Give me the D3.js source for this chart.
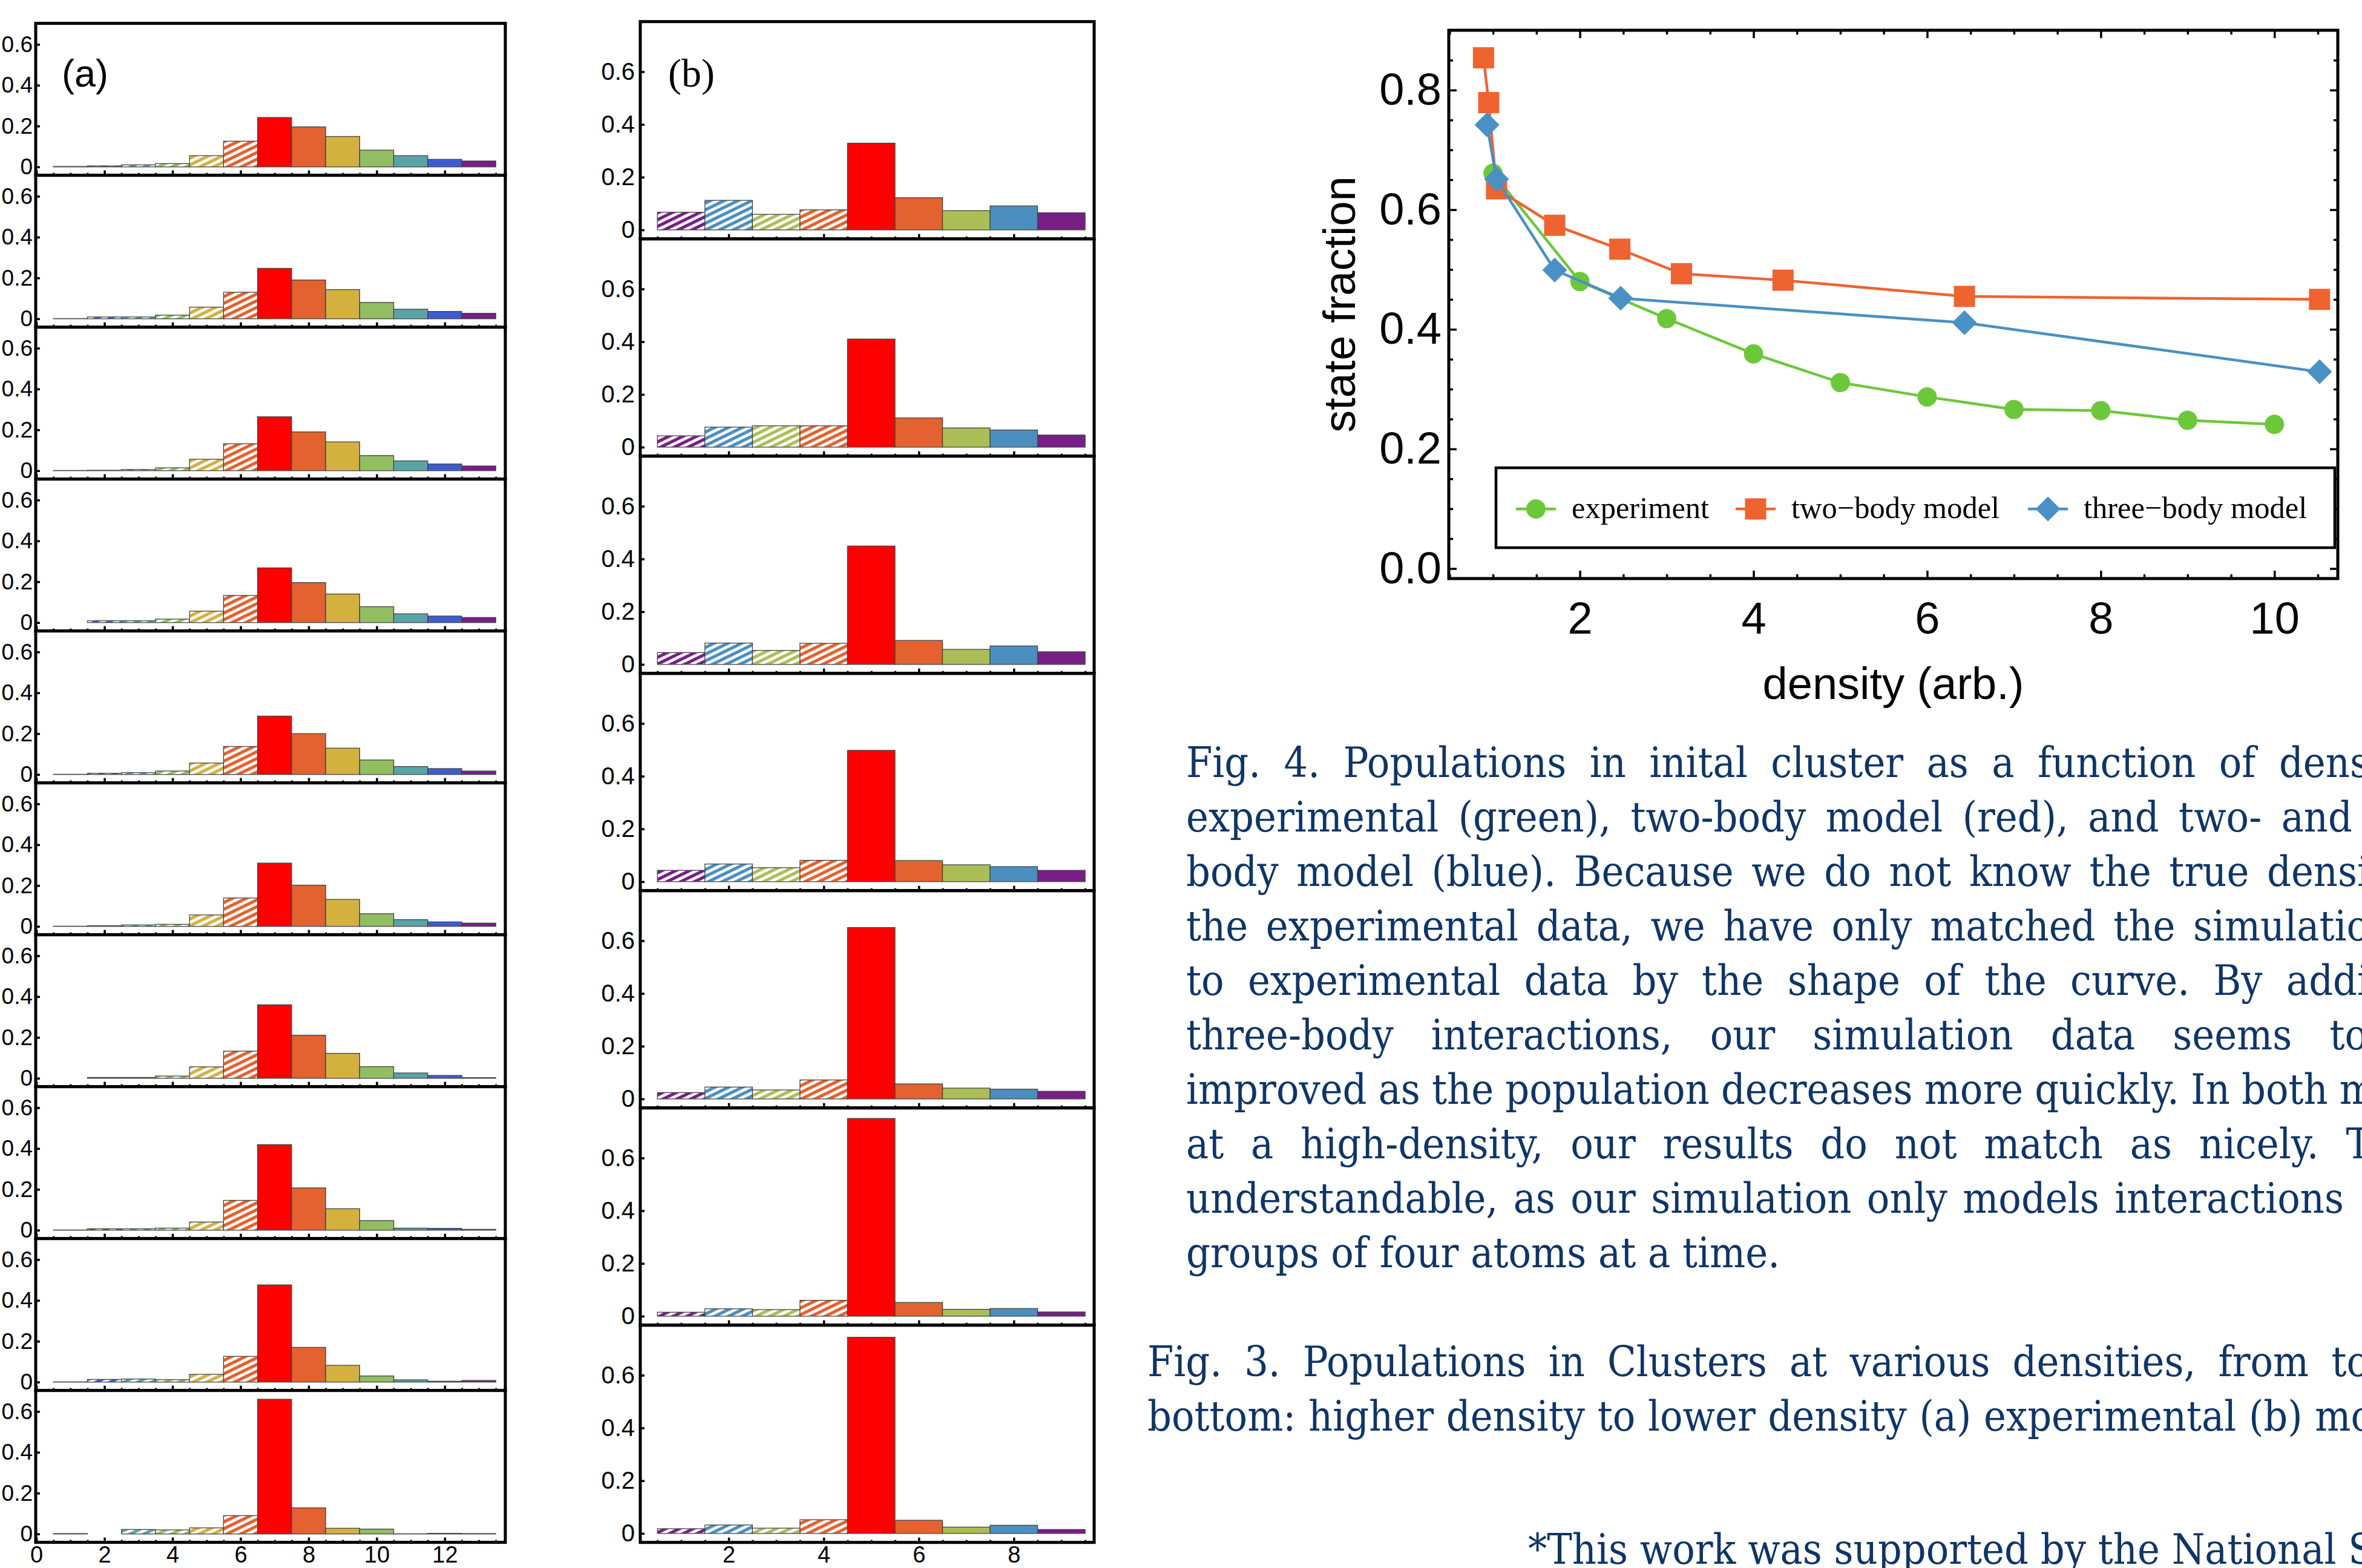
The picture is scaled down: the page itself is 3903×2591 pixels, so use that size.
<!DOCTYPE html>
<html>
<head>
<meta charset="utf-8">
<title>Cluster populations</title>
<script src="https://cdn.jsdelivr.net/npm/d3@7"></script>
<style>
  body { margin: 0; background: #fff; }
  svg { display: block; }
</style>
</head>
<body>
<script>

// ---- data: cluster populations, (a) experiment, (b) model ----
var aSizes = d3.range(1, 14);
var aPanels = [
  [0.002, 0.005, 0.010, 0.016, 0.055, 0.126, 0.242, 0.196, 0.149, 0.082, 0.055, 0.037, 0.029],
  [0.001, 0.009, 0.009, 0.018, 0.057, 0.130, 0.247, 0.190, 0.143, 0.080, 0.047, 0.036, 0.027],
  [0.001, 0.002, 0.006, 0.014, 0.056, 0.132, 0.264, 0.190, 0.141, 0.074, 0.048, 0.033, 0.023],
  [0.000, 0.009, 0.009, 0.017, 0.056, 0.133, 0.268, 0.196, 0.140, 0.078, 0.043, 0.032, 0.025],
  [0.001, 0.006, 0.009, 0.017, 0.056, 0.137, 0.286, 0.200, 0.129, 0.071, 0.039, 0.029, 0.017],
  [0.001, 0.003, 0.007, 0.010, 0.056, 0.139, 0.310, 0.202, 0.132, 0.062, 0.033, 0.022, 0.016],
  [0.000, 0.004, 0.004, 0.011, 0.056, 0.133, 0.360, 0.211, 0.122, 0.057, 0.026, 0.014, 0.003],
  [0.001, 0.007, 0.007, 0.010, 0.040, 0.146, 0.419, 0.207, 0.105, 0.047, 0.010, 0.009, 0.004],
  [0.001, 0.013, 0.015, 0.012, 0.038, 0.126, 0.476, 0.170, 0.082, 0.030, 0.011, 0.004, 0.008],
  [0.002, 0.000, 0.022, 0.020, 0.030, 0.090, 0.660, 0.128, 0.028, 0.024, 0.001, 0.003, 0.002]
];
var aTicksX = [0, 2, 4, 6, 8, 10, 12];

var bSizes = d3.range(1, 10);
var bPanels = [
  [0.067, 0.112, 0.059, 0.076, 0.329, 0.122, 0.073, 0.091, 0.065],
  [0.043, 0.076, 0.081, 0.081, 0.410, 0.111, 0.073, 0.065, 0.046],
  [0.045, 0.081, 0.053, 0.080, 0.449, 0.091, 0.057, 0.070, 0.048],
  [0.043, 0.067, 0.053, 0.081, 0.498, 0.080, 0.064, 0.057, 0.043],
  [0.024, 0.045, 0.034, 0.072, 0.650, 0.057, 0.041, 0.037, 0.029],
  [0.015, 0.028, 0.025, 0.060, 0.750, 0.052, 0.026, 0.029, 0.016],
  [0.018, 0.032, 0.020, 0.052, 0.744, 0.050, 0.024, 0.031, 0.015]
];
var bTicksX = [2, 4, 6, 8];
var barTicksY = [0, 0.2, 0.4, 0.6];

// ---- data: state fraction vs density ----
var expX = [1, 2, 3, 4, 5, 6, 7, 8, 9, 10];
var expY = [0.661, 0.480, 0.418, 0.359, 0.311, 0.287, 0.266, 0.264, 0.248, 0.241];
var twoX = [0.89, 0.95, 1.04, 1.71, 2.46, 3.17, 4.34, 6.43, 10.52];
var twoY = [0.854, 0.779, 0.635, 0.574, 0.534, 0.493, 0.482, 0.455, 0.450];
var threeX = [0.93, 1.04, 1.71, 2.47, 6.43, 10.52];
var threeY = [0.742, 0.651, 0.499, 0.452, 0.411, 0.329];
var seriesNames = ["experiment", "two\u2212body model", "three\u2212body model"];
var lineTicksX = [2, 4, 6, 8, 10];
var lineTicksY = [0, 0.2, 0.4, 0.6, 0.8];

// ---- caption text ----
var fig4Lines = [
  "Fig. 4. Populations in inital cluster as a function of dens",
  "experimental (green), two-body model (red), and two- and",
  "body model (blue). Because we do not know the true densi",
  "the experimental data, we have only matched the simulatio",
  "to experimental data by the shape of the curve. By addi",
  "three-body interactions, our simulation data seems to",
  "improved as the population decreases more quickly. In both m",
  "at a high-density, our results do not match as nicely. T",
  "understandable, as our simulation only models interactions",
  "groups of four atoms at a time."
];
var fig3Lines = [
  "Fig. 3. Populations in Clusters at various densities, from to",
  "bottom: higher density to lower density (a) experimental (b) mo"
];
var footLine = "*This work was supported by the National S";

// ---- styles ----
var aColors = ["#771e87", "#3f5bd4", "#5aa4a8", "#92bd62", "#d4b03f", "#e3622f", "#ff0000",
               "#e3622f", "#d4b03f", "#92bd62", "#5aa4a8", "#3f5bd4", "#771e87"];
var bColors = ["#781e86", "#4a8fc0", "#abbe56", "#e3622f", "#ff0000",
               "#e3622f", "#abbe56", "#4a8fc0", "#781e86"];
var seriesColors = ["#6cc83a", "#ee6330", "#4a90c4"];
var sansFont = '"Liberation Sans", Arial, Helvetica, sans-serif';
var serifFont = '"Liberation Serif", "Times New Roman", serif';
var capFont = '"DejaVu Serif Condensed", "DejaVu Serif", serif';
var capColor = "#0f3567";

var width = 3903, height = 2591;

var svg = d3.select("body")
  .append("svg")
  .attr("width", width)
  .attr("height", height);

var defs = svg.append("defs");

function hatch(color) {
  var id = "hatch" + color.slice(1);
  if (defs.select("#" + id).empty()) {
    var p = defs.append("pattern")
      .attr("id", id)
      .attr("patternUnits", "userSpaceOnUse")
      .attr("width", 10).attr("height", 10)
      .attr("patternTransform", "rotate(-26)");
    p.append("rect").attr("width", 10).attr("height", 10).attr("fill", "#fff");
    p.append("rect").attr("width", 10).attr("height", 5.2).attr("fill", color);
  }
  return "url(#" + id + ")";
}

function styleAxis(g, size) {
  g.select(".domain").remove();
  g.attr("font-family", sansFont).attr("font-size", size);
  g.selectAll("text").attr("fill", "#000");
}

// stacked bar panels
function barColumn(opt) {
  var x = d3.scaleLinear().domain(opt.xDomain).range([opt.left, opt.right]);
  var minor = d3.range(opt.xDomain[0] < 0.5 ? 0.5 : 1, opt.xDomain[1], 0.5)
    .filter(function (v) { return opt.xTicks.indexOf(v) < 0; });
  var last = opt.panels.length - 1;

  opt.panels.forEach(function (vals, i) {
    var top = opt.top + i * opt.h, bottom = top + opt.h;
    var y = d3.scaleLinear().domain(opt.yDomain).range([bottom, top]);
    var g = svg.append("g");

    g.selectAll("rect.bar")
      .data(vals)
      .join("rect")
      .attr("class", "bar")
      .attr("x", function (d, j) { return x(opt.sizes[j] - 0.5); })
      .attr("width", function (d, j) { return x(opt.sizes[j] + 0.5) - x(opt.sizes[j] - 0.5); })
      .attr("y", function (d) { return y(d); })
      .attr("height", function (d) { return y(0) - y(d); })
      .attr("fill", function (d, j) { return opt.sizes[j] < opt.solidFrom ? hatch(opt.colors[j]) : opt.colors[j]; })
      .attr("stroke", "#444")
      .attr("stroke-width", 1.3);

    var ya = g.append("g")
      .attr("transform", "translate(" + opt.left + ",0)")
      .call(d3.axisLeft(y).tickValues(barTicksY).tickSizeInner(-7).tickSizeOuter(0).tickPadding(opt.yPad)
        .tickFormat(function (d) { return d === 0 ? "0" : d3.format(".1f")(d); }));
    styleAxis(ya, opt.yFont);
    ya.selectAll("line").attr("stroke-width", 3.5);

    var xm = g.append("g")
      .attr("transform", "translate(0," + bottom + ")")
      .call(d3.axisBottom(x).tickValues(minor).tickSizeInner(-4).tickSizeOuter(0).tickFormat(""));
    styleAxis(xm, 38);
    xm.selectAll("line").attr("stroke-width", 3);

    var xa = g.append("g")
      .attr("transform", "translate(0," + bottom + ")")
      .call(d3.axisBottom(x).tickValues(opt.xTicks).tickSizeInner(-8).tickSizeOuter(0).tickPadding(6)
        .tickFormat(i === last ? d3.format("d") : ""));
    styleAxis(xa, 38);
    xa.selectAll("line").attr("stroke-width", 3.5);

    g.append("rect")
      .attr("x", opt.left).attr("y", top)
      .attr("width", opt.right - opt.left).attr("height", opt.h)
      .attr("fill", "none").attr("stroke", "#000").attr("stroke-width", 5);
  });
}

barColumn({
  panels: aPanels, sizes: aSizes, colors: aColors, solidFrom: 7,
  xDomain: [-0.02, 13.78], xTicks: aTicksX, yDomain: [-0.041, 0.703],
  left: 59, right: 835, top: 38.6, h: 251, yPad: 5, yFont: 37
});

barColumn({
  panels: bPanels, sizes: bSizes, colors: bColors, solidFrom: 5,
  xDomain: [0.14, 9.69], xTicks: bTicksX, yDomain: [-0.034, 0.79],
  left: 1058, right: 1808, top: 35.7, h: 359, yPad: 9, yFont: 40
});

svg.append("text")
  .attr("x", 102).attr("y", 143)
  .attr("font-family", sansFont).attr("font-size", 63)
  .text("(a)");

svg.append("text")
  .attr("x", 1104).attr("y", 143)
  .attr("font-family", serifFont).attr("font-size", 66)
  .text("(b)");

// ---- line chart ----
var lp = { left: 2394, right: 3863, top: 50, bottom: 956 };
var lx = d3.scaleLinear().domain([0.49, 10.73]).range([lp.left, lp.right]);
var ly = d3.scaleLinear().domain([-0.0167, 0.9]).range([lp.bottom, lp.top]);

var lxMinor = d3.range(0.5, 10.73, 0.5).filter(function (v) { return lineTicksX.indexOf(v) < 0; });
var lyMinor = d3.range(0, 0.9, 0.05).map(function (v) { return +v.toFixed(2); })
  .filter(function (v) { return lineTicksY.indexOf(v) < 0; });

function frameAxis(axis, translate, major, minor, labels, padding) {
  var gMin = svg.append("g").attr("transform", translate)
    .call(axis.tickValues(minor).tickSizeInner(-7).tickSizeOuter(0).tickFormat(""));
  styleAxis(gMin, 74);
  gMin.selectAll("line").attr("stroke-width", 3.5);
  var gMaj = svg.append("g").attr("transform", translate)
    .call(axis.tickValues(major).tickSizeInner(-13).tickSizeOuter(0).tickPadding(padding)
      .tickFormat(labels || ""));
  styleAxis(gMaj, 74);
  gMaj.selectAll("line").attr("stroke-width", 3.5);
}

frameAxis(d3.axisBottom(lx), "translate(0," + lp.bottom + ")", lineTicksX, lxMinor, d3.format("d"), 38);
frameAxis(d3.axisTop(lx), "translate(0," + lp.top + ")", lineTicksX, lxMinor, null, 10);
frameAxis(d3.axisLeft(ly), "translate(" + lp.left + ",0)", lineTicksY, lyMinor, d3.format(".1f"), 12);
frameAxis(d3.axisRight(ly), "translate(" + lp.right + ",0)", lineTicksY, lyMinor, null, 10);

var series = [
  { name: seriesNames[0], xs: expX, ys: expY, symbol: d3.symbolCircle, size: 800, rot: 0 },
  { name: seriesNames[1], xs: twoX, ys: twoY, symbol: d3.symbolSquare, size: 1225, rot: 0 },
  { name: seriesNames[2], xs: threeX, ys: threeY, symbol: d3.symbolSquare, size: 840, rot: 45 }
];

var line = d3.line()
  .x(function (d) { return lx(d[0]); })
  .y(function (d) { return ly(d[1]); });

series.forEach(function (s, k) {
  var pts = s.xs.map(function (v, j) { return [v, s.ys[j]]; });
  var g = svg.append("g");
  g.append("path")
    .attr("d", line(pts))
    .attr("fill", "none")
    .attr("stroke", seriesColors[k])
    .attr("stroke-width", 4.5);
  g.selectAll("path.pt")
    .data(pts)
    .join("path")
    .attr("class", "pt")
    .attr("d", d3.symbol().type(s.symbol).size(s.size))
    .attr("transform", function (d) {
      return "translate(" + lx(d[0]) + "," + ly(d[1]) + ") rotate(" + s.rot + ")";
    })
    .attr("fill", seriesColors[k]);
});

svg.append("rect")
  .attr("x", lp.left).attr("y", lp.top)
  .attr("width", lp.right - lp.left).attr("height", lp.bottom - lp.top)
  .attr("fill", "none").attr("stroke", "#000").attr("stroke-width", 5);

// legend
var legend = svg.append("g");
legend.append("rect")
  .attr("x", 2472).attr("y", 773).attr("width", 1386).attr("height", 132)
  .attr("fill", "#fff").attr("stroke", "#000").attr("stroke-width", 4.5);
var legendX = [2538, 2901, 3384];
series.forEach(function (s, k) {
  var cx = legendX[k], cy = 841;
  legend.append("line")
    .attr("x1", cx - 33).attr("x2", cx + 33).attr("y1", cy).attr("y2", cy)
    .attr("stroke", seriesColors[k]).attr("stroke-width", 4.5);
  legend.append("path")
    .attr("d", d3.symbol().type(s.symbol).size(s.size))
    .attr("transform", "translate(" + cx + "," + cy + ") rotate(" + s.rot + ")")
    .attr("fill", seriesColors[k]);
  legend.append("text")
    .attr("x", cx + 59).attr("y", cy + 15)
    .attr("font-family", serifFont).attr("font-size", 50.5)
    .text(s.name);
});

svg.append("text")
  .attr("transform", "translate(2239," + (lp.top + lp.bottom) / 2 + ") rotate(-90)")
  .attr("text-anchor", "middle")
  .attr("font-family", sansFont).attr("font-size", 74)
  .text("state fraction");

svg.append("text")
  .attr("x", (lp.left + lp.right) / 2).attr("y", 1155)
  .attr("text-anchor", "middle")
  .attr("font-family", sansFont).attr("font-size", 74)
  .text("density (arb.)");

// ---- captions (justified, running off the right edge) ----
var meas = svg.append("text")
  .attr("font-family", capFont).style("font-stretch", "condensed")
  .attr("font-size", 100);
meas.text(fig4Lines[fig4Lines.length - 1]);
var capSize = 100 * 981 / meas.node().getComputedTextLength();
meas.attr("font-size", capSize);

function textWidth(s) {
  meas.text(s);
  return meas.node().getComputedTextLength();
}

function captionLine(str, x0, y, xEnd) {
  var t = svg.append("text")
    .attr("y", y)
    .attr("font-family", capFont).style("font-stretch", "condensed")
    .attr("font-size", capSize)
    .attr("fill", capColor);
  if (!xEnd) {
    t.attr("x", x0).text(str);
    return;
  }
  var words = str.split(" ");
  var widths = words.map(textWidth);
  var gap = (xEnd - x0 - d3.sum(widths)) / (words.length - 1);
  var cx = x0;
  words.forEach(function (w, j) {
    t.append("tspan").attr("x", cx).text(w);
    cx += widths[j] + gap;
  });
}

var fig4Ends = [3915, 3887, 3915, 3915, 3915, 3912, 3925, 3918, 3873, null];
fig4Lines.forEach(function (s, i) {
  captionLine(s, 1960, 1283.5 + 90 * i, fig4Ends[i]);
});
var fig3Ends = [3915, 3922];
fig3Lines.forEach(function (s, i) {
  captionLine(s, 1896, 2273.5 + 90 * i, fig3Ends[i]);
});
captionLine(footLine, 2525, 2584, null);
meas.remove();

</script>
</body>
</html>
